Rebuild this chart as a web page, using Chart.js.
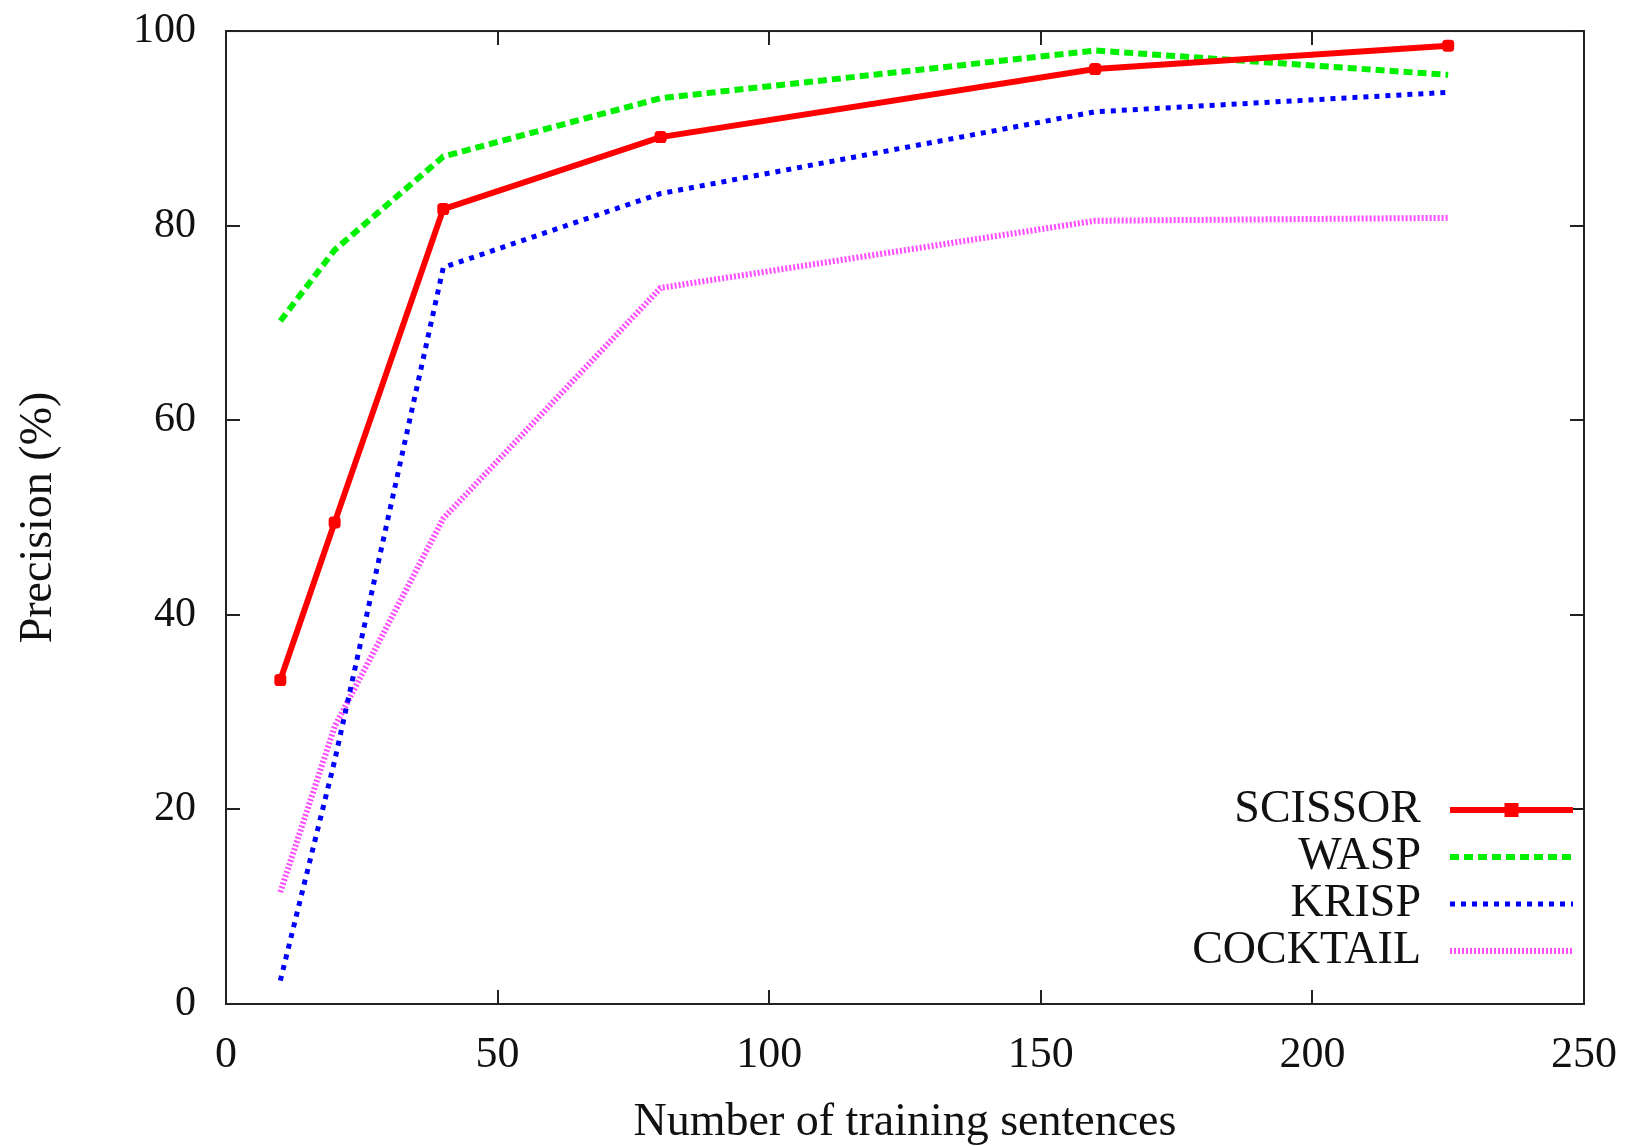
<!DOCTYPE html>
<html>
<head>
<meta charset="utf-8">
<script src="https://cdn.jsdelivr.net/npm/chart.js@4/dist/chart.umd.min.js"></script>
<style>
html,body{margin:0;padding:0;background:#fff;}
canvas{display:block;}
</style>
</head>
<body>
<canvas id="c" width="1644" height="1146"></canvas>
<script>
const xValues = [10, 20, 40, 80, 160, 225];
const scissor = [33.3, 49.5, 81.7, 89.1, 96.1, 98.5];
const wasp = [70.2, 77.5, 87.1, 93.1, 98.0, 95.5];
const krisp = [2.4, 25.0, 75.7, 83.3, 91.7, 93.7];
const cocktail = [11.5, 28.5, 49.9, 73.6, 80.5, 80.8];
const seriesNames = ['SCISSOR', 'WASP', 'KRISP', 'COCKTAIL'];
const xTitle = 'Number of training sentences';
const yTitle = 'Precision (%)';

const FONT = '"Liberation Serif", "Times New Roman", serif';

function pts(arr){ return xValues.map((x,i)=>({x:x, y:arr[i]})); }

const datasets = [
  {label: seriesNames[0], data: pts(scissor), borderColor:'#ff0000', backgroundColor:'#ff0000',
   borderWidth:6, pointStyle:'rectRounded', pointRadius:7, pointBorderWidth:0, borderDash:[]},
  {label: seriesNames[1], data: pts(wasp), borderColor:'#00f000', backgroundColor:'#00f000',
   borderWidth:6, pointRadius:0, borderDash:[9,5]},
  {label: seriesNames[2], data: pts(krisp), borderColor:'#0000ff', backgroundColor:'#0000ff',
   borderWidth:5, pointRadius:0, borderDash:[5,6]},
  {label: seriesNames[3], data: pts(cocktail), borderColor:'#ff4cff', backgroundColor:'#ff4cff',
   borderWidth:6, pointRadius:0, borderDash:[2,2]}
];

const framePlugin = {
  id:'frame',
  afterDatasetsDraw(chart){
    const ctx = chart.ctx, a = chart.chartArea;
    const xs = chart.scales.x, ys = chart.scales.y;
    ctx.save();
    ctx.strokeStyle = '#222';
    ctx.lineWidth = 2;
    ctx.setLineDash([]);
    ctx.strokeRect(a.left, a.top, a.right - a.left, a.bottom - a.top);
    const tl = 14;
    ctx.beginPath();
    xs.ticks.forEach(t=>{
      const px = Math.round(xs.getPixelForValue(t.value));
      ctx.moveTo(px, a.bottom); ctx.lineTo(px, a.bottom - tl);
      ctx.moveTo(px, a.top); ctx.lineTo(px, a.top + tl);
    });
    ys.ticks.forEach(t=>{
      const py = Math.round(ys.getPixelForValue(t.value));
      ctx.moveTo(a.left, py); ctx.lineTo(a.left + tl, py);
      ctx.moveTo(a.right, py); ctx.lineTo(a.right - tl, py);
    });
    ctx.stroke();
    // legend
    const rowGap = 47;
    const textRight = a.right - 163;
    const lineStart = a.right - 134;
    const lineEnd = a.right - 11;
    let y0 = a.bottom - 194;
    ctx.font = '46px ' + FONT;
    ctx.textAlign = 'right';
    ctx.textBaseline = 'middle';
    chart.data.datasets.forEach((ds, i)=>{
      const y = y0 + i*rowGap;
      ctx.fillStyle = '#111';
      ctx.fillText(ds.label, textRight, y);
      ctx.strokeStyle = ds.borderColor;
      ctx.lineWidth = ds.borderWidth;
      ctx.setLineDash(ds.borderDash || []);
      ctx.beginPath();
      ctx.moveTo(lineStart, y); ctx.lineTo(lineEnd, y);
      ctx.stroke();
      ctx.setLineDash([]);
      if (ds.pointRadius > 0) {
        ctx.fillStyle = ds.backgroundColor;
        const r = ds.pointRadius;
        ctx.fillRect((lineStart+lineEnd)/2 - r, y - r, 2*r, 2*r);
      }
    });
    ctx.restore();
  }
};

new Chart(document.getElementById('c'), {
  type:'line',
  data:{datasets: datasets},
  options:{
    responsive:false,
    devicePixelRatio:1,
    animation:false,
    layout:{padding:{top:12, right:60, left:0, bottom:0}},
    plugins:{legend:{display:false}, tooltip:{enabled:false}},
    elements:{line:{tension:0}},
    scales:{
      x:{
        type:'linear', min:0, max:250,
        ticks:{stepSize:50, color:'#111', font:{family:FONT, size:44}, padding:25, maxRotation:0},
        grid:{drawOnChartArea:false, drawTicks:false, display:false},
        border:{display:false},
        title:{display:true, text:xTitle, color:'#111', font:{family:FONT, size:46, lineHeight:1.0}, padding:{top:0, bottom:0}},
        afterFit(s){ s.height = 142; }
      },
      y:{
        type:'linear', min:0, max:100,
        ticks:{stepSize:20, color:'#111', font:{family:FONT, size:42, lineHeight:0.05}, padding:30},
        grid:{drawOnChartArea:false, drawTicks:false, display:false},
        border:{display:false},
        title:{display:true, text:yTitle, color:'#111', font:{family:FONT, size:46, lineHeight:1.1}, padding:{top:14, bottom:0}},
        afterFit(s){ s.width = 226; }
      }
    }
  },
  plugins:[framePlugin]
});
</script>
</body>
</html>
